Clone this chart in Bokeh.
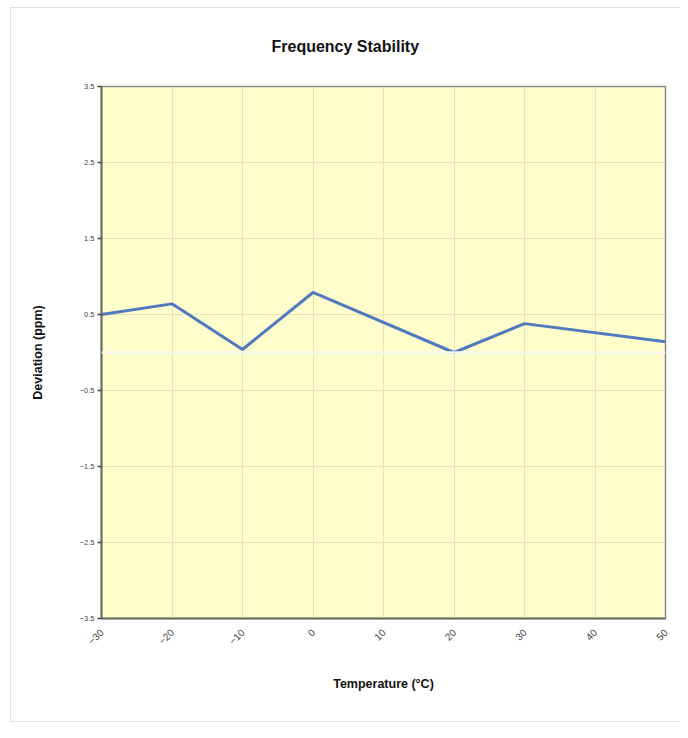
from math import pi
from bokeh.plotting import figure
from bokeh.models import FixedTicker, Span, Range1d
from bokeh.embed import file_html
from bokeh.resources import INLINE

# Data
temperature = [-30, -20, -10, 0, 20, 30, 50]
deviation = [0.50, 0.64, 0.04, 0.79, 0.00, 0.38, 0.14]

x_ticks = [-30, -20, -10, 0, 10, 20, 30, 40, 50]
y_ticks = [-3.5, -2.5, -1.5, -0.5, 0.5, 1.5, 2.5, 3.5]

title_text = "Frequency Stability"
x_label = "Temperature (°C)"
y_label = "Deviation (ppm)"

FONT = "Liberation Sans"

p = figure(width=680, height=730, output_backend="svg", toolbar_location=None,
           x_range=Range1d(-30, 50), y_range=Range1d(-3.5, 3.5),
           min_border_left=101, min_border_right=15, min_border_top=86, min_border_bottom=112,
           background_fill_color="#FFFDCC", border_fill_color=None)

p.title.text = title_text
p.title.align = "left"
p.title.text_font = FONT
p.title.text_font_size = "16px"
p.title.text_font_style = "bold"
p.title.text_color = "#111111"
p.title.offset = 170
p.title.standoff = 64

p.outline_line_color = "#8a8a8a"
p.outline_line_width = 1.5

# Grid
p.xgrid.ticker = FixedTicker(ticks=x_ticks)
p.ygrid.ticker = FixedTicker(ticks=y_ticks)
p.grid.grid_line_color = "#E6E3B5"
p.grid.grid_line_width = 1

# X axis
xa = p.xaxis[0]
xa.ticker = FixedTicker(ticks=x_ticks)
xa.major_label_orientation = pi / 4
xa.major_label_text_font = FONT
xa.major_label_text_font_size = "10px"
xa.major_label_text_color = "#444444"
xa.major_label_standoff = 12
xa.major_tick_out = 0
xa.major_tick_in = 0
xa.minor_tick_out = 0
xa.minor_tick_in = 0
xa.axis_line_color = "#6b6b5e"
xa.axis_line_width = 2
xa.axis_label = x_label
xa.axis_label_text_font = FONT
xa.axis_label_text_font_size = "12.5px"
xa.axis_label_text_font_style = "bold"
xa.axis_label_text_color = "#111111"
xa.axis_label_standoff = 26

# Y axis
ya = p.yaxis[0]
ya.ticker = FixedTicker(ticks=y_ticks)
ya.major_label_text_font = FONT
ya.major_label_text_font_size = "7.5px"
ya.major_label_text_color = "#444444"
ya.major_label_standoff = 3
ya.major_tick_out = 4
ya.major_tick_in = 0
ya.major_tick_line_color = "#444444"
ya.major_tick_line_width = 1.5
ya.minor_tick_out = 0
ya.minor_tick_in = 0
ya.axis_line_color = "#6b6b5e"
ya.axis_line_width = 2
ya.axis_label = y_label
ya.axis_label_text_font = FONT
ya.axis_label_text_font_size = "12.5px"
ya.axis_label_text_font_style = "bold"
ya.axis_label_text_color = "#111111"
ya.axis_label_standoff = 32

# Zero line (white)
zero = Span(location=0, dimension="width", line_color="#F6F6F0", line_width=2.5, level="overlay")
p.add_layout(zero)

# Series
p.line(temperature, deviation, line_color="#5079BE", line_width=3)

p.styles = {
    "background-color": "white",
    "background-image": "linear-gradient(#e2e2e2,#e2e2e2), linear-gradient(#e2e2e2,#e2e2e2), linear-gradient(#e2e2e2,#e2e2e2)",
    "background-size": "1px 715px, 680px 1px, 680px 1px",
    "background-position": "10px 7px, 10px 7px, 10px 721px",
    "background-repeat": "no-repeat",
}

open("out.html", "w").write(file_html(p, INLINE))
